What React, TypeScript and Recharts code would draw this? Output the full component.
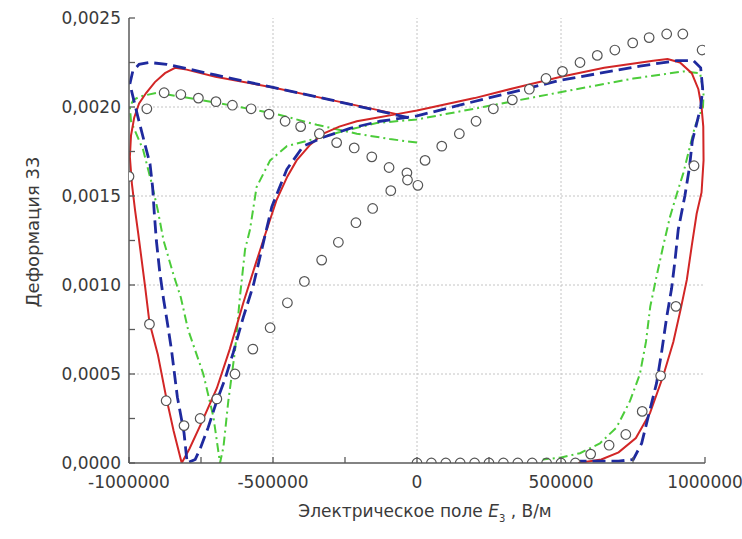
import {
  ComposedChart,
  Line,
  ReferenceLine,
  Scatter,
  XAxis,
  YAxis,
  Label,
} from "recharts";

// field E3 (V/m) vs strain S33, each pair is [E, S]
const modelRed: [number, number][] = [
  [-70000, 0.00196], [-300000, 0.00204], [-500000, 0.00211], [-700000, 0.00217],
  [-800000, 0.00221], [-840000, 0.00222], [-875000, 0.00219], [-910000, 0.00214],
  [-940000, 0.00208], [-965000, 0.00202], [-982000, 0.00194], [-993000, 0.00184],
  [-997000, 0.00172], [-990000, 0.00157], [-979000, 0.00142], [-968000, 0.00129],
  [-944000, 0.00099], [-929000, 0.00079], [-900000, 0.00061], [-871000, 0.00037],
  [-845000, 0.00018], [-817000, 0], [-790000, 0.00008], [-750000, 0.00022],
  [-695000, 0.00042], [-650000, 0.00064], [-603000, 0.0009], [-560000, 0.00112],
  [-534000, 0.00125], [-487000, 0.00148], [-450000, 0.00161], [-418000, 0.0017],
  [-370000, 0.00179], [-325000, 0.00185], [-270000, 0.00189], [-209000, 0.00192],
  [-140000, 0.00194], [-70000, 0.00196], [0, 0.00198], [200000, 0.00205],
  [346000, 0.00211], [500000, 0.00217], [650000, 0.00222], [820000, 0.00226],
  [870000, 0.00227], [913000, 0.00225], [954000, 0.00219], [977000, 0.0021],
  [988000, 0.002], [994000, 0.00189], [995000, 0.0017], [988000, 0.00152],
  [971000, 0.0014], [954000, 0.00122], [937000, 0.00103], [915000, 0.00086],
  [890000, 0.00068], [855000, 0.00049], [809000, 0.00028], [760000, 0.00014],
  [700000, 0.00006], [640000, 0.00002], [560000, 0],
];

const modelBlue: [number, number][] = [
  [-30000, 0.00194], [-300000, 0.00204], [-500000, 0.00211], [-700000, 0.00218],
  [-869000, 0.00224], [-930000, 0.00225], [-965000, 0.00224], [-987000, 0.0022],
  [-997000, 0.00213], [-985000, 0.00205], [-970000, 0.00195], [-951000, 0.00183],
  [-927000, 0.00168], [-918000, 0.00155], [-912000, 0.0014], [-905000, 0.00125],
  [-893000, 0.00107], [-880000, 0.00092], [-866000, 0.00078], [-852000, 0.00063],
  [-832000, 0.00037], [-809000, 0.00017], [-798000, 0], [-770000, 0.00002],
  [-753000, 0.00008], [-725000, 0.0002], [-695000, 0.00035], [-667000, 0.00047],
  [-638000, 0.00062], [-603000, 0.00082], [-568000, 0.001], [-539000, 0.0012],
  [-504000, 0.00144], [-452000, 0.00165], [-395000, 0.00178], [-325000, 0.00183],
  [-233000, 0.00188], [-128000, 0.00192], [0, 0.00195], [172000, 0.00202],
  [497000, 0.00215], [774000, 0.00223], [902000, 0.00226], [960000, 0.00226],
  [985000, 0.00222], [992000, 0.0021], [985000, 0.002], [970000, 0.0019],
  [956000, 0.00181], [946000, 0.00166], [930000, 0.0015], [907000, 0.00131],
  [896000, 0.00114], [884000, 0.00098], [867000, 0.00082], [850000, 0.00063],
  [832000, 0.00045], [809000, 0.0003], [780000, 0.00011], [751000, 0.00002],
  [700000, 0.00001], [566000, 0.00001],
];

const modelGreen: [number, number][] = [
  [0, 0.0018], [-94000, 0.00182], [-209000, 0.00185], [-348000, 0.0019],
  [-487000, 0.00196], [-615000, 0.002], [-753000, 0.00204], [-903000, 0.00208],
  [-960000, 0.00206], [-985000, 0.00204], [-997000, 0.002], [-993000, 0.00192],
  [-975000, 0.00185], [-951000, 0.00176], [-921000, 0.00157], [-900000, 0.00142],
  [-880000, 0.00125], [-846000, 0.00106], [-820000, 0.00093], [-795000, 0.00075],
  [-742000, 0.0005], [-707000, 0.00026], [-684000, 0], [-672000, 0.00009],
  [-655000, 0.00035], [-632000, 0.00063], [-615000, 0.00093], [-597000, 0.0012],
  [-580000, 0.00131], [-557000, 0.00155], [-510000, 0.0017], [-452000, 0.00178],
  [-382000, 0.00181], [-267000, 0.00186], [-140000, 0.00191], [0, 0.00193],
  [230000, 0.002], [520000, 0.00209], [751000, 0.00216], [925000, 0.0022],
  [983000, 0.00219], [995000, 0.00208], [993000, 0.002], [965000, 0.00189],
  [948000, 0.00178], [925000, 0.00163], [900000, 0.0015], [878000, 0.00138],
  [855000, 0.00122], [832000, 0.00105], [810000, 0.00088], [795000, 0.00068],
  [774000, 0.0005], [740000, 0.00035], [693000, 0.0002], [635000, 0.00011],
  [566000, 0.000055], [497000, 0.00003], [437000, 0.00002],
];

const measured: [number, number][] = [
  [-1000000, 0.00161], [-938000, 0.00199], [-878000, 0.00208], [-820000, 0.00207],
  [-759000, 0.00205], [-698000, 0.00203], [-641000, 0.00201], [-576000, 0.00199],
  [-514000, 0.00196], [-458000, 0.00192], [-404000, 0.00189], [-339000, 0.00185],
  [-279000, 0.0018], [-218000, 0.00177], [-157000, 0.00172], [-97000, 0.00166],
  [-35000, 0.00163], [-33000, 0.00159], [3000, 0.00156],
  [-91000, 0.00153], [-154000, 0.00143], [-212000, 0.00135], [-273000, 0.00124],
  [-331000, 0.00114], [-391000, 0.00102], [-450000, 0.0009], [-510000, 0.00076],
  [-570000, 0.00064], [-632000, 0.0005], [-695000, 0.00036], [-753000, 0.00025],
  [-809000, 0.00021], [-871000, 0.00035], [-929000, 0.00078],
  [28000, 0.0017], [86000, 0.00178], [147000, 0.00185], [205000, 0.00192],
  [265000, 0.00199], [331000, 0.00204], [390000, 0.0021], [448000, 0.00216],
  [505000, 0.0022], [566000, 0.00225], [626000, 0.00229], [687000, 0.00232],
  [749000, 0.00236], [806000, 0.00239], [867000, 0.00241], [923000, 0.00241],
  [990000, 0.00232],
  [0, 0], [50000, 0], [100000, 0], [150000, 0], [200000, 0], [250000, 0],
  [300000, 0], [350000, 0], [400000, 0], [450000, 0], [500000, 0], [550000, 0],
  [603000, 0.00005], [667000, 0.0001], [725000, 0.00016], [782000, 0.00029],
  [846000, 0.00049], [899000, 0.00088], [962000, 0.00167],
];

const xTicks = [-1000000, -750000, -500000, -250000, 0, 250000, 500000, 750000, 1000000];
const yTicks = [0, 0.00025, 0.0005, 0.00075, 0.001, 0.00125, 0.0015, 0.00175, 0.002, 0.00225, 0.0025];
const xGrid = [-500000, 0, 500000];
const yGrid = [0.0005, 0.001, 0.0015, 0.002];

const toPoints = (pairs: [number, number][]) => pairs.map(([e, s]) => ({ e, s }));

const FRAME = "#5a5a5a";
const FONT = "'DejaVu Sans', Verdana, sans-serif";
const TEXT = "#3a3a3a";
const frameLine = { stroke: FRAME, strokeWidth: 1.5 };
const tickLine = { stroke: FRAME, strokeWidth: 1.3 };

const isMajorX = (v: number) => Math.abs(v) % 500000 === 0;
const isMajorY = (v: number) => Math.round(v / 0.00025) % 2 === 0;

function BottomLabel({ x, y, payload }: any) {
  if (!isMajorX(payload.value)) return <g />;
  return (
    <text x={x} y={y} dy="0.71em" textAnchor="middle" fill={TEXT} fontSize={17} fontFamily={FONT}>
      {String(payload.value)}
    </text>
  );
}

function LeftLabel({ x, y, payload }: any) {
  if (!isMajorY(payload.value)) return <g />;
  return (
    <text x={x} y={y} dy="0.33em" textAnchor="end" fill={TEXT} fontSize={17} fontFamily={FONT}>
      {payload.value.toFixed(4).replace(".", ",")}
    </text>
  );
}

const NoLabel = () => <g />;

// open circles; points sitting on zero are cut by the axis, only the upper half shows
function Ring({ cx, cy, payload }: any) {
  const r = 4.8;
  if (payload.s === 0) {
    return <path d={`M${cx - r},${cy} A${r},${r} 0 0 1 ${cx + r},${cy}`} fill="none" stroke="#555" strokeWidth={1.2} />;
  }
  return <circle cx={cx} cy={cy} r={r} fill="#fff" stroke="#555" strokeWidth={1.2} />;
}

function XTitle({ viewBox }: any) {
  const { x, y, width } = viewBox;
  return (
    <text x={x + width / 2 + 8} y={y + 54} textAnchor="middle" fill={TEXT} fontSize={17} fontFamily={FONT}>
      Электрическое поле <tspan fontStyle="italic">E</tspan>
      <tspan fontSize={10} dy={5}>3</tspan>
      <tspan dy={-5}> , В/м</tspan>
    </text>
  );
}

function YTitle() {
  return (
    <text x={0} y={0} transform="translate(39, 232) rotate(-90)" textAnchor="middle" fill={TEXT} fontSize={18} fontFamily={FONT}>
      Деформация 33
    </text>
  );
}

export default function App() {
  return (
    <div style={{ position: "absolute", left: 0, top: 0, width: 742, height: 539, background: "#fff" }}>
      <ComposedChart width={742} height={539} margin={{ top: 18, right: 37, bottom: 0, left: 0 }}>
        <XAxis
          dataKey="e"
          type="number"
          domain={[-1000000, 1000000]}
          allowDataOverflow
          ticks={xTicks}
          interval={0}
          height={76}
          tickSize={-6}
          tickMargin={19}
          tickLine={tickLine}
          axisLine={frameLine}
          tick={<BottomLabel />}
        >
          <Label content={<XTitle />} />
        </XAxis>
        <XAxis
          xAxisId="top"
          orientation="top"
          type="number"
          domain={[-1000000, 1000000]}
          allowDataOverflow
          ticks={xTicks}
          interval={0}
          height={0}
          tickSize={-6}
          tickLine={tickLine}
          axisLine={frameLine}
          tick={<NoLabel />}
        />
        <YAxis
          type="number"
          domain={[0, 0.0025]}
          allowDataOverflow
          ticks={yTicks}
          interval={0}
          width={129}
          tickSize={-6}
          tickMargin={14}
          tickLine={tickLine}
          axisLine={frameLine}
          tick={<LeftLabel />}
        >
          <Label content={<YTitle />} />
        </YAxis>
        <YAxis
          yAxisId="right"
          orientation="right"
          type="number"
          domain={[0, 0.0025]}
          allowDataOverflow
          ticks={yTicks}
          interval={0}
          width={0}
          tickSize={-6}
          tickLine={tickLine}
          axisLine={frameLine}
          tick={<NoLabel />}
        />
        {xGrid.map((v) => (
          <ReferenceLine key={`gx${v}`} x={v} stroke="#c4c4c4" strokeDasharray="2 2" />
        ))}
        {yGrid.map((v) => (
          <ReferenceLine key={`gy${v}`} y={v} stroke="#c4c4c4" strokeDasharray="2 2" />
        ))}
        <Line
          data={toPoints(modelGreen)}
          dataKey="s"
          type="linear"
          stroke="#4ccc3a"
          strokeWidth={2}
          strokeDasharray="9 4 2 4"
          dot={false}
          isAnimationActive={false}
        />
        <Line
          data={toPoints(modelRed)}
          dataKey="s"
          type="linear"
          stroke="#d22626"
          strokeWidth={2}
          dot={false}
          isAnimationActive={false}
        />
        <Line
          data={toPoints(modelBlue)}
          dataKey="s"
          type="linear"
          stroke="#1f2a9e"
          strokeWidth={2.8}
          strokeDasharray="13 6"
          dot={false}
          isAnimationActive={false}
        />
        <Scatter
          data={toPoints(measured)}
          dataKey="s"
          shape={<Ring />}
          isAnimationActive={false}
        />
      </ComposedChart>
    </div>
  );
}
